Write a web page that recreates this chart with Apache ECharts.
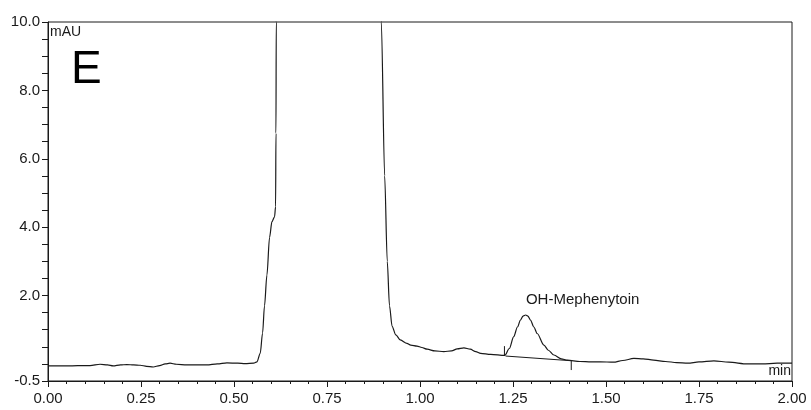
<!DOCTYPE html>
<html>
<head>
<meta charset="utf-8">
<script src="https://cdn.jsdelivr.net/npm/echarts@6/dist/echarts.min.js"></script>
<style>html,body{margin:0;padding:0;background:#fff}#c{width:811px;height:410px}</style>
</head>
<body>
<div id="c"></div>
<script>
// retention time (min)
var times = [0.00,0.02,0.05,0.08,0.113,0.14,0.16,0.175,0.195,0.212,0.23,0.248,0.265,0.283,0.30,0.315,0.328,0.345,0.373,0.40,0.427,0.455,0.481,0.51,0.53,0.553,
  0.5616,0.5705,0.5768,0.582,0.5885,0.5956,0.602,0.609,0.6118,0.6128,0.6136,0.616,0.65,0.85,0.893,0.896,0.905,0.912,0.918,0.925,0.935,0.947,0.965,0.975,0.992,
  1.005,1.019,1.04,1.064,1.085,1.10,1.118,1.135,1.15,1.163,1.19,1.228,1.24,1.252,1.262,1.270,1.277,1.284,1.29,1.297,1.306,1.315,1.333,1.345,1.36,1.38,1.396,
  1.43,1.46,1.485,1.52,1.545,1.575,1.60,1.628,1.66,1.69,1.72,1.75,1.79,1.83,1.88,1.92,1.96,2.00];
// absorbance (mAU)
var absorb = [-0.06,-0.06,-0.06,-0.05,-0.05,-0.01,-0.03,-0.06,-0.03,-0.02,-0.03,-0.04,-0.07,-0.09,-0.05,0.0,0.02,-0.01,-0.03,-0.03,-0.03,0.0,0.03,0.02,0.01,0.02,
  0.06,0.31,0.9,1.7,2.6,3.7,4.16,4.3,4.6,6.75,10.0,14,30,30,14,10.0,5.5,3.0,1.7,1.1,0.85,0.7,0.6,0.55,0.52,
  0.48,0.43,0.38,0.36,0.38,0.44,0.47,0.43,0.36,0.31,0.28,0.25,0.45,0.80,1.08,1.28,1.40,1.43,1.40,1.28,1.08,0.89,0.55,0.40,0.26,0.15,0.11,
  0.07,0.06,0.06,0.05,0.1,0.16,0.15,0.11,0.07,0.04,0.02,0.06,0.09,0.05,0.0,0.0,0.02,0.02];
// integration baseline and its start/end markers
var baseTimes = [1.23, 1.405];
var baseVals = [0.23, 0.094];
var startMarkTimes = [1.227, 1.227];
var startMarkVals = [0.23, 0.52];
var endMarkTimes = [1.4066, 1.4066];
var endMarkVals = [0.085, -0.18];
// peak label
var peakName = 'OH-Mephenytoin';
var peakTime = 1.284, peakVal = 1.43;
// tick labels
var yTickLabels = ['-0.5','2.0','4.0','6.0','8.0','10.0'];
var xTickLabels = ['0.00','0.25','0.50','0.75','1.00','1.25','1.50','1.75','2.00'];

function zip(a,b){var r=[];for(var i=0;i<a.length;i++)r.push([a[i],b[i]]);return r;}
var ink = '#1a1a1a';
var ff = 'Liberation Sans, Arial, sans-serif';
var chart = echarts.init(document.getElementById('c'), null, {renderer:'canvas'});
chart.setOption({
  animation:false,
  backgroundColor:'#fff',
  grid:{left:48,right:19,top:22,bottom:29,show:true,borderColor:ink,borderWidth:1,backgroundColor:'transparent'},
  xAxis:{type:'value',min:0,max:2,interval:0.25,
    axisLine:{show:true,onZero:false,lineStyle:{color:ink,width:1}},
    axisTick:{show:true,length:6,lineStyle:{color:ink}},
    minorTick:{show:true,splitNumber:5,length:3,lineStyle:{color:ink}},
    splitLine:{show:false},
    axisLabel:{color:ink,fontSize:15,fontFamily:ff,margin:10,
      formatter:function(v){var s=v.toFixed(2);return xTickLabels.indexOf(s)>=0?s:'';}}},
  yAxis:{type:'value',min:-0.5,max:10,interval:0.5,
    axisLine:{show:true,onZero:false,lineStyle:{color:ink,width:1}},
    axisTick:{show:true,length:6,lineStyle:{color:ink}},
    splitLine:{show:false},
    axisLabel:{color:ink,fontSize:15,fontFamily:ff,margin:8,
      formatter:function(v){var s=v.toFixed(1);return yTickLabels.indexOf(s)>=0?s:'';}}},
  series:[
    {type:'line',data:zip(times,absorb),showSymbol:false,smooth:0.3,smoothMonotone:'x',clip:true,
      lineStyle:{color:ink,width:1.2},
      markPoint:{symbol:'circle',symbolSize:0,silent:true,
        data:[{coord:[peakTime,peakVal],value:peakName}],
        label:{show:true,position:'inside',offset:[57,-15],formatter:peakName,color:ink,fontSize:15,fontFamily:ff}}},
    {type:'line',data:zip(baseTimes,baseVals),showSymbol:false,lineStyle:{color:ink,width:1}},
    {type:'line',data:zip(startMarkTimes,startMarkVals),showSymbol:false,lineStyle:{color:ink,width:1}},
    {type:'line',data:zip(endMarkTimes,endMarkVals),showSymbol:false,lineStyle:{color:ink,width:1}}
  ],
  graphic:[
    {type:'text',left:50,top:25,style:{text:'mAU',fill:ink,fontSize:14,fontFamily:ff}},
    {type:'text',left:71,top:47,style:{text:'E',fill:'#000',fontSize:46,fontFamily:ff}},
    {type:'text',right:20,top:364,style:{text:'min',fill:ink,fontSize:14,fontFamily:ff}}
  ]
});
</script>
</body>
</html>
